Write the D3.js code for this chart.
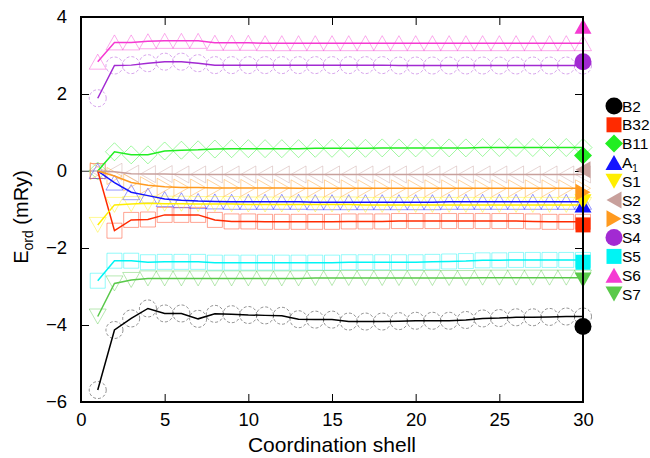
<!DOCTYPE html>
<html>
<head>
<meta charset="utf-8">
<script src="https://cdn.jsdelivr.net/npm/d3@7"></script>
<style>
body { margin: 0; background: #fff; }
text { font-family: "Liberation Sans", Arial, sans-serif; }
</style>
</head>
<body>
<svg id="chart"></svg>
<script>
// coordination shells
var shells = [1,2,3,4,5,6,7,8,9,10,11,12,13,14,15,16,17,18,19,20,21,22,23,24,25,26,27,28,29,30];

var names = ["B2","B32","B11","A1","S1","S2","S3","S4","S5","S6","S7"];

var b2  = [-5.69,-4.13,-3.83,-3.57,-3.70,-3.70,-3.84,-3.71,-3.72,-3.74,-3.75,-3.76,-3.85,-3.86,-3.86,-3.91,-3.91,-3.91,-3.90,-3.89,-3.89,-3.89,-3.87,-3.83,-3.82,-3.80,-3.80,-3.79,-3.78,-3.78];
var b32 = [0,-1.55,-1.27,-1.26,-1.14,-1.14,-1.14,-1.27,-1.31,-1.31,-1.32,-1.32,-1.32,-1.32,-1.32,-1.31,-1.31,-1.31,-1.30,-1.30,-1.30,-1.30,-1.30,-1.30,-1.30,-1.30,-1.31,-1.32,-1.32,-1.32];
var b11 = [0,0.50,0.42,0.42,0.52,0.54,0.55,0.57,0.58,0.58,0.58,0.58,0.58,0.59,0.59,0.59,0.59,0.60,0.60,0.60,0.60,0.60,0.60,0.61,0.61,0.61,0.61,0.61,0.61,0.61];
var a1  = [0,-0.30,-0.55,-0.64,-0.73,-0.76,-0.78,-0.79,-0.80,-0.80,-0.80,-0.80,-0.80,-0.81,-0.81,-0.81,-0.81,-0.81,-0.81,-0.81,-0.81,-0.80,-0.80,-0.80,-0.80,-0.80,-0.80,-0.80,-0.80,-0.80];
var s1  = [-1.40,-0.88,-0.86,-0.84,-0.85,-0.85,-0.86,-0.86,-0.86,-0.87,-0.87,-0.87,-0.87,-0.87,-0.87,-0.87,-0.88,-0.88,-0.88,-0.88,-0.88,-0.88,-0.88,-0.88,-0.88,-0.88,-0.88,-0.88,-0.88,-0.88];
var s2  = [0,-0.02,-0.07,-0.08,-0.08,-0.09,-0.09,-0.09,-0.09,-0.09,-0.09,-0.09,-0.09,-0.09,-0.09,-0.09,-0.09,-0.09,-0.09,-0.09,-0.09,-0.09,-0.09,-0.09,-0.09,-0.09,-0.09,-0.09,-0.09,-0.09];
var s3  = [0,-0.13,-0.30,-0.37,-0.41,-0.43,-0.43,-0.44,-0.44,-0.44,-0.44,-0.44,-0.45,-0.45,-0.45,-0.45,-0.45,-0.45,-0.45,-0.45,-0.45,-0.45,-0.45,-0.45,-0.45,-0.45,-0.45,-0.45,-0.45,-0.45];
var s4  = [1.89,2.74,2.75,2.80,2.84,2.84,2.80,2.75,2.75,2.75,2.75,2.75,2.75,2.75,2.75,2.75,2.75,2.75,2.74,2.74,2.74,2.74,2.74,2.74,2.74,2.74,2.74,2.74,2.74,2.74];
var s5  = [-2.85,-2.33,-2.33,-2.37,-2.36,-2.36,-2.36,-2.38,-2.38,-2.38,-2.38,-2.38,-2.38,-2.38,-2.38,-2.37,-2.37,-2.37,-2.37,-2.37,-2.36,-2.35,-2.34,-2.32,-2.32,-2.31,-2.31,-2.31,-2.31,-2.31];
var s6  = [2.84,3.34,3.34,3.37,3.38,3.38,3.38,3.33,3.33,3.33,3.32,3.32,3.32,3.32,3.32,3.32,3.32,3.32,3.32,3.32,3.32,3.32,3.32,3.32,3.32,3.32,3.32,3.32,3.32,3.32];
var s7  = [-3.78,-2.92,-2.83,-2.79,-2.79,-2.79,-2.79,-2.79,-2.79,-2.79,-2.79,-2.79,-2.79,-2.78,-2.78,-2.78,-2.78,-2.78,-2.78,-2.78,-2.78,-2.78,-2.78,-2.77,-2.77,-2.77,-2.77,-2.77,-2.77,-2.77];

// big filled symbols at the last shell
var finalShell = 30;
var finalVals = [-4.04,-1.40,0.40,-0.88,-0.80,0.03,-0.55,2.84,-2.37,3.76,-2.83];

var xTicks = [0,5,10,15,20,25,30];
var yTicks = [-6,-4,-2,0,2,4];

var allSeries = [b2,b32,b11,a1,s1,s2,s3,s4,s5,s6,s7];
var colors = ["#000000","#ff2a00","#22ee22","#1414ff","#ffee00","#c8a09c","#ff9a1f","#a22ad2","#00f4f4","#f53ad2","#5ac94a"];
var shapes = ["circle","square","diamond","up","down","left","right","circle","square","up","down"];

var W = 650, H = 458;
var svg = d3.select("#chart").attr("width", W).attr("height", H);

var x = d3.scaleLinear().domain([0,30]).range([81,583]);
var y = d3.scaleLinear().domain([-6,4]).range([402,17]);

var symPath = function(shape){
    if (shape == "circle") return d3.symbol(d3.symbolCircle, Math.PI*8.5*8.5)();
    if (shape == "square") return d3.symbol(d3.symbolSquare, 15*15)();
    if (shape == "diamond") return "M0,-9L9,0L0,9L-9,0Z";
    return "M0,-7.5L8.5,7.5L-8.5,7.5Z";
}
var symRot = function(shape){
    if (shape == "down") return 180;
    if (shape == "left") return -90;
    if (shape == "right") return 90;
    return 0;
}

// minor + major ticks, all pointing inward
var gx = svg.append("g").attr("transform","translate(0,402)");
gx.call(d3.axisBottom(x).tickValues(shells.concat([0])).tickSize(-4.5).tickFormat(""));
gx.call(d3.axisBottom(x).tickValues(xTicks).tickSizeInner(-8).tickSizeOuter(0).tickPadding(11).tickFormat(d3.format("d")));
var gt = svg.append("g").attr("transform","translate(0,17)");
gt.call(d3.axisTop(x).tickValues(shells.concat([0])).tickSize(-4.5).tickFormat(""));
gt.call(d3.axisTop(x).tickValues(xTicks).tickSize(-8).tickFormat(""));
var gl = svg.append("g").attr("transform","translate(81,0)");
gl.call(d3.axisLeft(y).tickValues([-5,-3,-1,1,3]).tickSize(-4.5).tickFormat(""));
gl.call(d3.axisLeft(y).tickValues(yTicks).tickSizeInner(-8).tickSizeOuter(0).tickPadding(14).tickFormat(d3.format("d")));
var gr = svg.append("g").attr("transform","translate(583,0)");
gr.call(d3.axisRight(y).tickValues([-5,-3,-1,1,3]).tickSize(-4.5).tickFormat(""));
gr.call(d3.axisRight(y).tickValues(yTicks).tickSize(-8).tickFormat(""));

svg.selectAll(".domain").remove();
svg.selectAll(".tick line").attr("stroke","#000").attr("stroke-width",1);
svg.selectAll(".tick text").attr("font-size","18.5px").attr("fill","#000")
   .attr("font-family","'Liberation Sans', Arial, sans-serif");

// gray stub at zero before the first shell
svg.append("line")
    .attr("x1", x(0)).attr("x2", x(1))
    .attr("y1", y(0)).attr("y2", y(0))
    .attr("stroke","#aaa").attr("stroke-width",1.2);

// faded open markers
allSeries.forEach(function(vals, i){
    var shp = shapes[i];
    svg.append("g").selectAll("path")
        .data(vals)
        .enter()
        .append("path")
        .attr("d", symPath(shp))
        .attr("transform", function(d,j){
            return "translate(" + x(shells[j]) + "," + y(d) + ") rotate(" + symRot(shp) + ")";
        })
        .attr("fill","none")
        .attr("stroke", colors[i])
        .attr("stroke-opacity", 0.48)
        .attr("stroke-width", 0.9)
        .attr("stroke-dasharray", shp == "circle" ? "3,2" : null);
});

// the lines
var line = d3.line()
    .x(function(d,j){ return x(shells[j]); })
    .y(function(d){ return y(d); });

allSeries.forEach(function(vals, i){
    svg.append("path")
        .datum(vals)
        .attr("d", line)
        .attr("fill","none")
        .attr("stroke", colors[i])
        .attr("stroke-width", 1.5);
});

// filled symbols at shell 30
svg.append("g").selectAll("path")
    .data(finalVals)
    .enter()
    .append("path")
    .attr("d", function(d,i){ return symPath(shapes[i]); })
    .attr("transform", function(d,i){
        return "translate(" + x(finalShell) + "," + y(d) + ") rotate(" + symRot(shapes[i]) + ")";
    })
    .attr("fill", function(d,i){ return colors[i]; });

// frame
svg.append("rect")
    .attr("x", x(0)).attr("y", y(4))
    .attr("width", x(30) - x(0)).attr("height", y(-6) - y(4))
    .attr("fill","none").attr("stroke","#000").attr("stroke-width",2);

// legend
var leg = svg.append("g");
names.forEach(function(n, i){
    var ly = 106 + i*18.8;
    leg.append("path")
        .attr("d", symPath(shapes[i]))
        .attr("transform","translate(614," + ly + ") rotate(" + symRot(shapes[i]) + ")")
        .attr("fill", colors[i]);
    var t = leg.append("text")
        .attr("x", 622).attr("y", ly + 5.5)
        .attr("font-size","15.5px")
        .attr("fill","#000");
    if (n == "A1") {
        t.append("tspan").text("A");
        t.append("tspan").attr("font-size","10px").attr("dy", 4).text("1");
    } else {
        t.text(n);
    }
});

// axis titles
svg.append("text")
    .attr("x", x(15)).attr("y", 452)
    .attr("text-anchor","middle")
    .attr("font-size","21px")
    .text("Coordination shell");

var yl = svg.append("text")
    .attr("transform","translate(28,217) rotate(-90)")
    .attr("text-anchor","middle")
    .attr("font-size","20px");
yl.append("tspan").text("E");
yl.append("tspan").attr("font-size","14px").attr("dy", 5).text("ord");
yl.append("tspan").attr("dy", -5).text(" (mRy)");
</script>
</body>
</html>
